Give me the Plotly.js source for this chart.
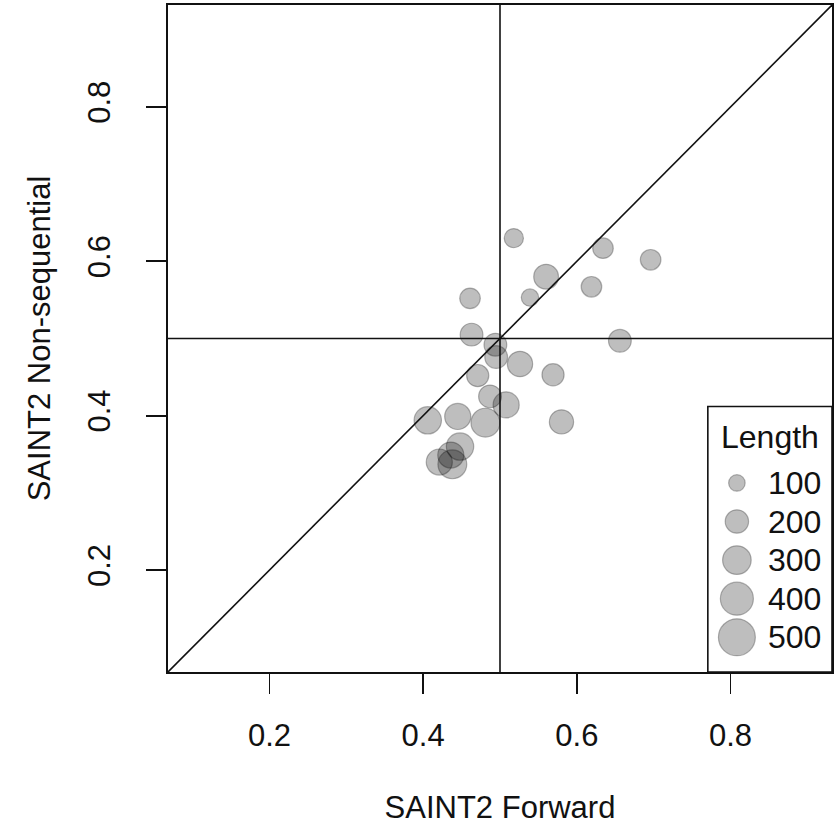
<!DOCTYPE html>
<html>
<head>
<meta charset="utf-8">
<script src="https://cdn.plot.ly/plotly-3.0.1.min.js"></script>
<style>
  html, body { margin: 0; padding: 0; background: #ffffff; }
  #chart { width: 840px; height: 825px; }
</style>
</head>
<body>
<div id="chart"></div>
<script>
// ---- Data ----
const forward = [0.518, 0.634, 0.696, 0.560, 0.619, 0.461, 0.539, 0.463, 0.494, 0.495, 0.526, 0.656,
                 0.471, 0.569, 0.487, 0.508, 0.406, 0.445, 0.481, 0.580, 0.448, 0.436, 0.421, 0.438];
const nonSequential = [0.630, 0.617, 0.602, 0.580, 0.567, 0.552, 0.553, 0.505, 0.492, 0.476, 0.467, 0.497,
                       0.452, 0.453, 0.425, 0.414, 0.394, 0.399, 0.391, 0.392, 0.360, 0.349, 0.340, 0.337];
const lengths = [135, 155, 155, 225, 155, 155, 110, 190, 190, 190, 235, 190,
                 180, 180, 190, 250, 275, 250, 305, 215, 275, 250, 250, 305];

const legendLengths = [100, 200, 300, 400, 500];
const legendLabels = ["100", "200", "300", "400", "500"];
const legendTitle = "Length";

const xTickVals = [0.2, 0.4, 0.6, 0.8];
const xTickText = ["0.2", "0.4", "0.6", "0.8"];
const yTickVals = [0.2, 0.4, 0.6, 0.8];
const yTickText = ["0.2", "0.4", "0.6", "0.8"];

const xTitle = "SAINT2 Forward";
const yTitle = "SAINT2 Non-sequential";
const refValue = 0.5;

// ---- Styling ----
const FONT = "Liberation Sans, Arimo, Arial, Helvetica, sans-serif";
const FS = 31;
const fill = "rgba(0,0,0,0.36)";
const edge = "rgba(0,0,0,0.42)";
const sizeOf = L => 16.5 * Math.sqrt(L / 100);
const range = [0.068, 0.932];
const ink = "#111";

const points = {
  type: "scatter", mode: "markers",
  x: forward, y: nonSequential,
  marker: { size: lengths.map(sizeOf), color: fill, line: { color: edge, width: 1.2 } },
  hoverinfo: "x+y", showlegend: false,
  xaxis: "x", yaxis: "y"
};

const legendIdx = legendLengths.map((_, i) => i + 1);
const legendTrace = {
  type: "scatter", mode: "markers",
  x: legendLengths.map(() => 0.234), y: legendIdx,
  marker: { size: legendLengths.map(sizeOf), color: fill, line: { color: edge, width: 1.2 } },
  hoverinfo: "skip", showlegend: false,
  xaxis: "x2", yaxis: "y2"
};

const annotations = legendLabels.map((t, i) => ({
  xref: "x2", yref: "y2", x: 0.47, y: legendIdx[i], text: t,
  xanchor: "left", yanchor: "middle", showarrow: false,
  font: { family: FONT, size: 32, color: ink }
}));
annotations.push({
  xref: "x2", yref: "y2", x: 0.5, y: -0.2, text: legendTitle,
  xanchor: "center", yanchor: "middle", showarrow: false,
  font: { family: FONT, size: 32, color: ink }
});

const lineStyle = { color: ink, width: 1.6 };
const shapes = [
  { type: "line", xref: "x", yref: "y", x0: range[0], y0: range[0], x1: range[1], y1: range[1], line: lineStyle, layer: "above" },
  { type: "line", xref: "x", yref: "y", x0: refValue, x1: refValue, y0: range[0], y1: range[1], line: lineStyle, layer: "above" },
  { type: "line", xref: "x", yref: "y", x0: range[0], x1: range[1], y0: refValue, y1: refValue, line: lineStyle, layer: "above" },
  { type: "rect", xref: "paper", yref: "paper", x0: 0.813, x1: 1, y0: 0, y1: 0.398, line: lineStyle, fillcolor: "#ffffff", layer: "below" }
];

const layout = {
  width: 840, height: 825,
  margin: { l: 168, r: 8, t: 5, b: 153 },
  paper_bgcolor: "#ffffff", plot_bgcolor: "rgba(0,0,0,0)",
  font: { family: FONT, size: FS, color: ink },
  xaxis: {
    range: range, tickvals: xTickVals, ticktext: xTickText,
    ticks: "outside", ticklen: 20, tickwidth: 1.6, tickcolor: ink,
    ticklabelstandoff: 15,
    showgrid: false, zeroline: false,
    showline: true, mirror: true, linecolor: ink, linewidth: 1.6,
    tickfont: { family: FONT, size: FS, color: ink },
    title: { text: xTitle, font: { family: FONT, size: FS, color: ink }, standoff: 44 }
  },
  yaxis: {
    range: range, tickvals: yTickVals, ticktext: yTickText,
    ticks: "outside", ticklen: 20, tickwidth: 1.6, tickcolor: ink,
    tickangle: -90, ticklabelstandoff: 24,
    showgrid: false, zeroline: false,
    showline: true, mirror: true, linecolor: ink, linewidth: 1.6,
    tickfont: { family: FONT, size: FS, color: ink },
    title: { text: yTitle, font: { family: FONT, size: FS, color: ink }, standoff: 22 }
  },
  xaxis2: { domain: [0.813, 1], range: [0, 1], visible: false, fixedrange: true, anchor: "y2" },
  yaxis2: { domain: [0, 0.398], range: [5.901, -0.982], visible: false, fixedrange: true, anchor: "x2" },
  shapes: shapes,
  annotations: annotations,
  showlegend: false
};

Plotly.newPlot("chart", [points, legendTrace], layout, { staticPlot: true, displayModeBar: false });
</script>
</body>
</html>
